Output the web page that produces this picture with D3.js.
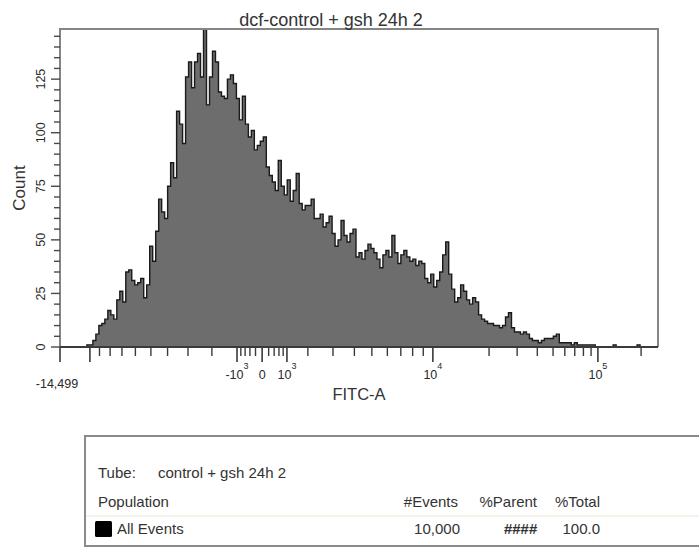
<!DOCTYPE html>
<html><head><meta charset="utf-8">
<script src="https://cdn.jsdelivr.net/npm/d3@7/dist/d3.min.js"></script>
<style>
body{margin:0;background:#fff;overflow:hidden}
svg{display:block;font-family:"Liberation Sans",Arial,sans-serif}
</style>
</head><body>
<svg id="chart" width="699" height="548"></svg>
<script>
// ---------- data ----------
const chartTitle = "dcf-control + gsh 24h 2";
const xAxisTitle = "FITC-A";
const yAxisTitle = "Count";

// histogram counts, one per display channel bin (200 bins across the biexponential display)
const binCounts = [
  0,0,0,0,0,0,0,0,0,1,
  1,3,6,10,11,13,17,15,13,22,
  26,21,35,36,31,29,30,32,23,29,
  47,40,54,69,63,60,75,86,79,110,
  104,95,126,133,121,133,137,126,150,113,
  126,138,133,119,117,116,125,127,123,116,
  106,117,104,98,101,92,94,96,98,84,
  80,77,73,87,75,71,78,68,73,81,
  67,64,66,66,69,60,60,62,56,58,
  61,53,47,50,59,52,49,53,55,42,
  44,41,45,48,46,44,41,37,43,45,
  42,52,44,39,43,45,42,40,41,38,
  40,39,32,30,34,28,31,35,43,49,
  34,27,21,23,29,26,22,20,23,21,
  15,13,12,11,11,10,10,9,10,14,
  16,9,7,7,6,7,6,4,3,3,
  2,3,4,4,4,5,6,2,2,2,
  2,1,2,1,1,1,1,1,1,0,
  0,0,0,0,0,1,0,0,0,0,
  0,0,0,1,0,0,0,0,0,0
];
const channelDomain = [0, 200];

// biexponential display: FITC-A values and the display channel they fall on
const axisAnchorValues   = [-14499, -10000, -5000, -3000, -2000, -1000, 0, 1000, 2000, 3000, 5000, 10000, 20000, 50000, 100000, 262143];
const axisAnchorChannels = [0, 10.0, 30.4, 42.8, 50.8, 59.2, 67.6, 75.9, 82.9, 91.3, 104.3, 124.7, 143.5, 164.9, 179.9, 200];

const xMajorTicks     = [-14499, -10000, -1000, 0, 1000, 10000, 100000];
const xMajorLabelBase = ["-14,499", "", "-10", "0", "10", "10", "10"];
const xMajorLabelExp  = ["", "", "3", "", "3", "4", "5"];
const xMinorTicks = [-9000,-8000,-7000,-6000,-5000,-4000,-3000,-2000,-800,-600,-400,-200,
                     200,400,600,800,2000,3000,4000,5000,6000,7000,8000,9000,
                     20000,30000,40000,50000,60000,70000,80000,90000,200000];

const yDomain = [0, 148.4];
const yMajorTicks = [0, 25, 50, 75, 100, 125];
const yMinorTicks = [5,10,15,20,30,35,40,45,55,60,65,70,80,85,90,95,105,110,115,120,130,135,140,145];

const tubeLabel = "Tube:";
const tubeName = "control + gsh 24h 2";
const tableHeaders = ["Population", "#Events", "%Parent", "%Total"];
const tableRow = ["All Events", "10,000", "####", "100.0"];

// ---------- drawing ----------
const svg = d3.select("#chart");
const M = {left: 60, top: 29, right: 658, bottom: 347};

const u = v => Math.sign(v) * Math.log10(1 + Math.abs(v) / 1000);
const toChannel = d3.scaleLinear().domain(axisAnchorValues.map(u)).range(axisAnchorChannels);
const xChan = d3.scaleLinear().domain(channelDomain).range([M.left, M.right]);
const xVal = v => xChan(toChannel(u(v)));
const y = d3.scaleLinear().domain(yDomain).range([M.bottom, M.top]);

const textColor = "#2a2a2a";

// clip
svg.append("defs").append("clipPath").attr("id", "plotClip")
  .append("rect").attr("x", M.left).attr("y", M.top)
  .attr("width", M.right - M.left).attr("height", M.bottom - M.top);

// histogram
const pts = binCounts.map((c, i) => [i, c]);
pts.push([binCounts.length, binCounts[binCounts.length - 1]]);
const area = d3.area().curve(d3.curveStepAfter)
  .x(d => xChan(d[0])).y0(y(0)).y1(d => y(d[1]));
const line = d3.line().curve(d3.curveStepAfter)
  .x(d => xChan(d[0])).y(d => y(d[1]));
const g = svg.append("g").attr("clip-path", "url(#plotClip)");
g.append("path").datum(pts).attr("d", area).attr("fill", "#6d6d6d");
g.append("path").datum(pts).attr("d", line).attr("fill", "none")
  .attr("stroke", "#1a1a1a").attr("stroke-width", 1.4);

// frame
svg.append("path")
  .attr("d", `M${M.left},${M.bottom}V${M.top}H${M.right}V${M.bottom}`)
  .attr("fill", "none").attr("stroke", "#858585").attr("stroke-width", 2);
svg.append("line").attr("x1", M.left).attr("x2", M.right)
  .attr("y1", M.bottom).attr("y2", M.bottom)
  .attr("stroke", "#3a3a3a").attr("stroke-width", 2);

// x ticks
svg.append("g").selectAll("line.minor").data(xMinorTicks).join("line")
  .attr("x1", d => xVal(d)).attr("x2", d => xVal(d))
  .attr("y1", M.bottom).attr("y2", M.bottom + 9)
  .attr("stroke", "#3a3a3a").attr("stroke-width", 1.4);
svg.append("g").selectAll("line.major").data(xMajorTicks).join("line")
  .attr("x1", d => xVal(d)).attr("x2", d => xVal(d))
  .attr("y1", M.bottom).attr("y2", M.bottom + 15)
  .attr("stroke", "#3a3a3a").attr("stroke-width", 1.6);
const xl = svg.append("g").attr("fill", textColor).attr("font-size", 12.5);
xMajorTicks.forEach((v, i) => {
  if (!xMajorLabelBase[i]) return;
  const t = xl.append("text").attr("text-anchor", "middle")
    .attr("x", i === 0 ? xVal(v) - 3 : xVal(v))
    .attr("y", i === 0 ? 388 : 379);
  t.append("tspan").text(xMajorLabelBase[i]);
  if (xMajorLabelExp[i]) t.append("tspan").attr("dy", -10).attr("font-size", 9).text(xMajorLabelExp[i]);
});

// y ticks
svg.append("g").selectAll("line").data(yMinorTicks).join("line")
  .attr("x1", M.left - 6).attr("x2", M.left)
  .attr("y1", d => y(d)).attr("y2", d => y(d))
  .attr("stroke", "#4a4a4a").attr("stroke-width", 1.4);
svg.append("g").selectAll("line").data(yMajorTicks).join("line")
  .attr("x1", M.left - 9).attr("x2", M.left)
  .attr("y1", d => y(d)).attr("y2", d => y(d))
  .attr("stroke", "#4a4a4a").attr("stroke-width", 1.4);
svg.append("g").selectAll("text").data(yMajorTicks).join("text")
  .attr("transform", d => `translate(45,${y(d)}) rotate(-90)`)
  .attr("text-anchor", "middle").attr("font-size", 12.5).attr("fill", textColor)
  .text(d => d);

// titles
svg.append("text").attr("x", 331).attr("y", 26).attr("text-anchor", "middle")
  .attr("font-size", 18).attr("fill", "#333").text(chartTitle);
svg.append("text").attr("x", 359).attr("y", 400).attr("text-anchor", "middle")
  .attr("font-size", 16.5).attr("fill", "#333").text(xAxisTitle);
svg.append("text").attr("transform", "translate(25,188) rotate(-90)").attr("text-anchor", "middle")
  .attr("font-size", 17).attr("fill", "#333").text(yAxisTitle);

// stats table
const tb = svg.append("g").attr("font-size", 15).attr("fill", "#333");
tb.append("rect").attr("x", 85).attr("y", 436).attr("width", 640).attr("height", 110)
  .attr("fill", "#fff").attr("stroke", "#8a8a8a").attr("stroke-width", 2);
tb.append("line").attr("x1", 86).attr("x2", 699).attr("y1", 516).attr("y2", 516)
  .attr("stroke", "#f1f1e4").attr("stroke-width", 1.5);
tb.append("text").attr("x", 98).attr("y", 478).text(tubeLabel);
tb.append("text").attr("x", 158).attr("y", 478).text(tubeName);
const headerX = [98, 458, 537, 600];
const headerAnchor = ["start", "end", "end", "end"];
tableHeaders.forEach((h, i) => tb.append("text").attr("x", headerX[i]).attr("y", 507)
  .attr("text-anchor", headerAnchor[i]).text(h));
tb.append("rect").attr("x", 95).attr("y", 521).attr("width", 17).attr("height", 16)
  .attr("rx", 1.5).attr("fill", "#000");
const rowX = [117, 460, 537, 600];
tableRow.forEach((v, i) => tb.append("text").attr("x", rowX[i]).attr("y", 534)
  .attr("text-anchor", headerAnchor[i])
  .attr("font-style", i === 2 ? "italic" : null).attr("font-weight", i === 2 ? "bold" : null)
  .text(v));
</script>
</body></html>
